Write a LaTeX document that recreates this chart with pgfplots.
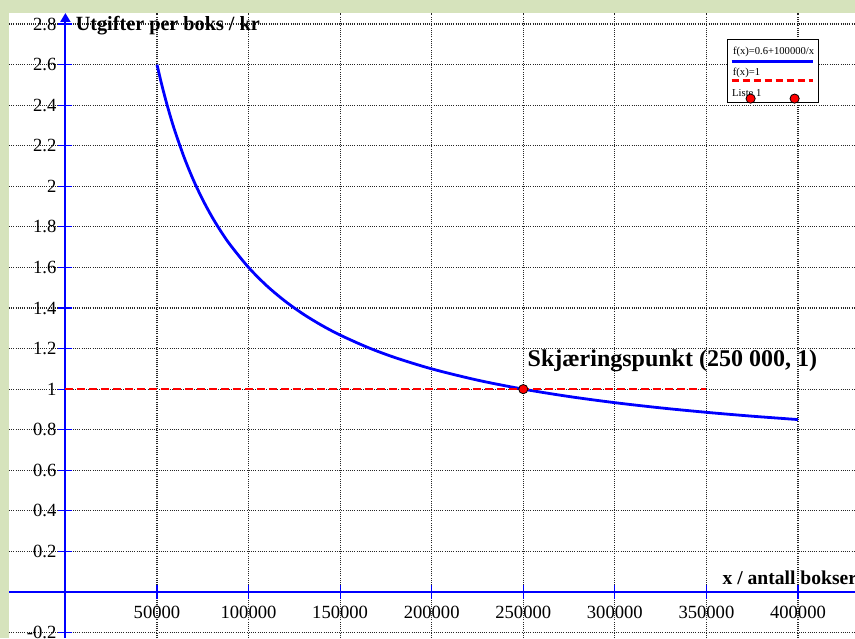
\documentclass[border=0pt]{standalone}
\usepackage{pgfplots}
\pgfplotsset{compat=1.18}
\usetikzlibrary{arrows.meta}
\usepackage{fontspec}
\setmainfont{Liberation Serif}
\definecolor{bggreen}{RGB}{214,227,188}
\newcommand\legfont{\fontsize{5.3}{6}\selectfont}

\begin{document}
\begin{tikzpicture}
\fill[bggreen] (-4.5pt,0) rectangle (423pt,319pt);
\begin{axis}[
    at={(0,0)}, anchor=south west,
    scale only axis, width=423pt, height=312.5pt,
    xmin=-30797, xmax=431140, ymin=-0.2268, ymax=2.8543,
    axis background/.style={fill=white},
    axis lines=middle,
    axis line style={blue, line width=1pt},
    x axis line style={-},
    y axis line style={-{Triangle[length=4.5pt,width=5pt]}},
    xtick={50000,100000,150000,200000,250000,300000,350000,400000},
    ytick={-0.2,0.2,0.4,0.6,0.8,1,1.2,1.4,1.6,1.8,2,2.2,2.4,2.6,2.8},
    scaled x ticks=false,
    xticklabel style={/pgf/number format/.cd, fixed, 1000 sep={}},
    yticklabel style={xshift=2.5pt},
    /pgf/number format/assume math mode=true,
    tick label style={font=\fontsize{9.3}{11}\selectfont},
    tick align=center, major tick length=7pt,
    tick style={blue, line width=0.6pt},
    grid=major,
    major grid style={black!85, line width=0.55pt, dash pattern=on 0.55pt off 0.55pt},
    legend style={at={(0.8487,0.9584)}, anchor=north west, draw=black,
        line width=0.6pt, fill=white, inner sep=0pt, row sep=0pt, column sep=0pt,
        nodes={inner sep=0pt, draw=none, fill=none}},
]

\addplot[blue, line width=1.4pt, smooth,
    legend image code/.code={
        \path[draw=none, fill=none] (-2pt,-3pt) rectangle (42.5pt,7.5pt);
        \node[overlay, draw=none, anchor=base west, inner sep=0pt, text=black, font=\legfont] at (0,0) {f(x)=0.6+100000/x};
        \draw[overlay, blue, line width=1.5pt, solid] (0,-3.5pt) -- (40.5pt,-3.5pt);
    }] coordinates {
    (50000,2.6) (52500,2.50476) (55000,2.41818) (57500,2.33913) (60000,2.26667)
    (65000,2.13846) (70000,2.02857) (75000,1.93333) (80000,1.85) (85000,1.77647)
    (90000,1.71111) (100000,1.6) (110000,1.50909) (120000,1.43333) (130000,1.36923)
    (140000,1.31429) (150000,1.26667) (165000,1.20606) (180000,1.15556) (200000,1.1)
    (225000,1.04444) (250000,1.0) (275000,0.96364) (300000,0.93333) (325000,0.90769)
    (350000,0.88571) (375000,0.86667) (400000,0.85)
};
\addlegendentry{\mbox{}}

\addplot[red, line width=1.3pt, dash pattern=on 4pt off 2pt,
    legend image code/.code={
        \path[draw=none, fill=none] (-2pt,-3pt) rectangle (42.5pt,7.5pt);
        \node[overlay, draw=none, anchor=base west, inner sep=0pt, text=black, font=\legfont] at (0,0) {f(x)=1};
        \draw[overlay, red, line width=1.2pt, dash pattern=on 3.5pt off 2pt] (0,-2.5pt) -- (40.5pt,-2.5pt);
    }] coordinates {(0,1) (350000,1)};
\addlegendentry{\mbox{}}

\addplot[only marks, mark=*, mark size=2.3pt, mark options={fill=red, draw=black, line width=0.4pt},
    legend image code/.code={
        \path[draw=none, fill=none] (-2pt,-3pt) rectangle (42.5pt,7.5pt);
        \node[overlay, draw=none, anchor=base west, inner sep=0pt, text=black, font=\legfont] at (0,0) {Liste 1};
        \filldraw[overlay, fill=red, draw=black, line width=0.4pt] (9.5pt,-1pt) circle (2.3pt);
        \filldraw[overlay, fill=red, draw=black, line width=0.4pt] (31.5pt,-1pt) circle (2.3pt);
    }] coordinates {(250000,1)};
\addlegendentry{\mbox{}}

\node[anchor=base west, inner sep=0pt, font=\fontsize{12}{14}\selectfont\bfseries]
    at (axis cs:252200,1.113) {Skjæringspunkt (250 000, 1)};
\node[anchor=base west, inner sep=0pt, font=\fontsize{10.1}{12}\selectfont\bfseries]
    at (axis cs:5460,2.768) {Utgifter per boks / kr};
\node[anchor=base west, inner sep=0pt, font=\fontsize{9.8}{12}\selectfont\bfseries]
    at (axis cs:358600,0.038) {x / antall bokser};
\end{axis}
\pgfresetboundingbox
\path (-4.5pt,0) rectangle (423pt,319pt);
\end{tikzpicture}
\end{document}
